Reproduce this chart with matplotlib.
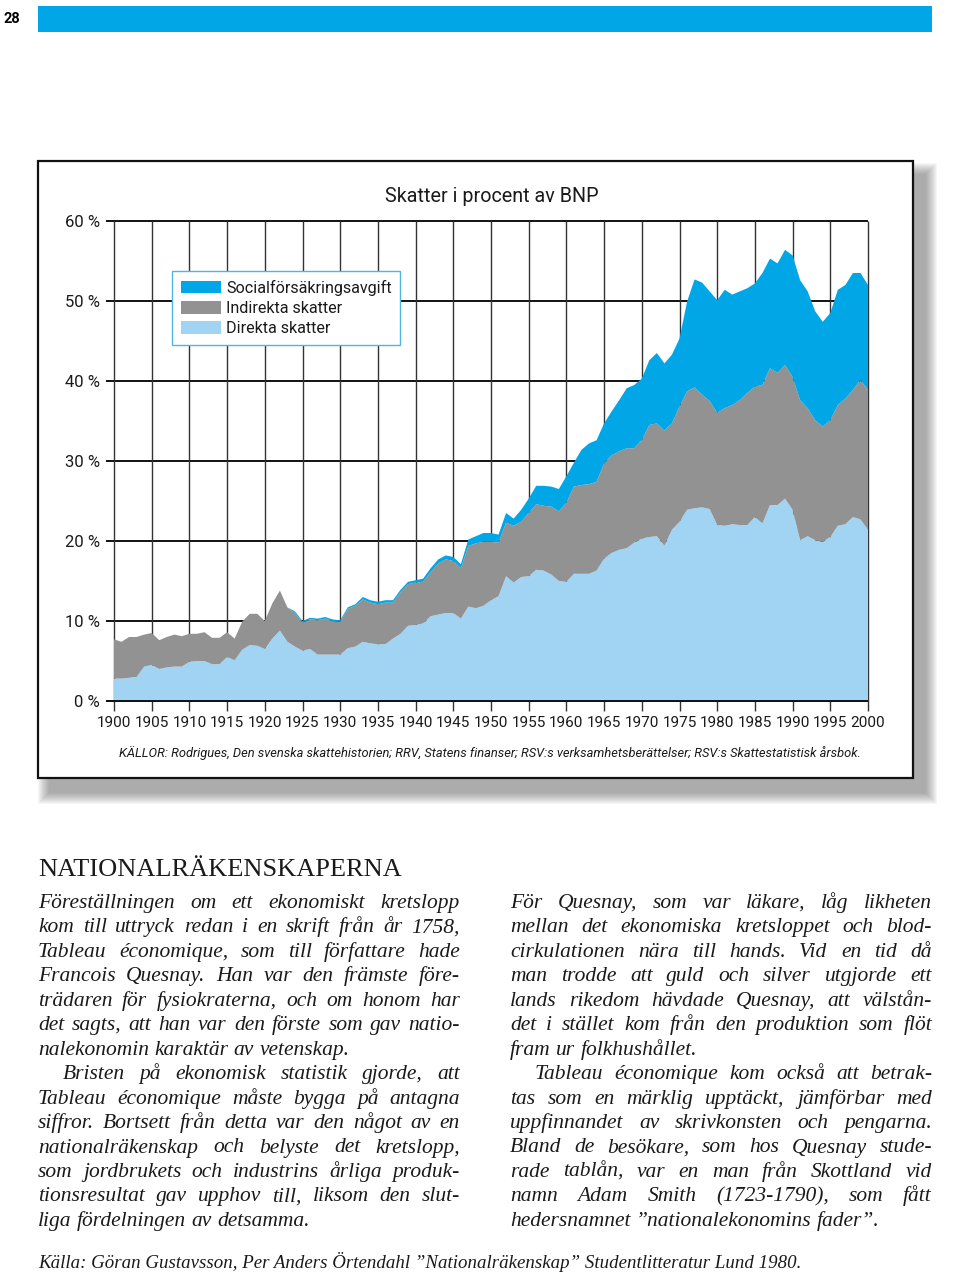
import matplotlib
matplotlib.use("Agg")
import matplotlib.pyplot as plt
from matplotlib.font_manager import FontProperties
from matplotlib.patches import Rectangle

W, H = 960, 1275

years = list(range(1900, 2001))
direkta = [2.8, 2.8, 2.9, 3.0, 4.3, 4.5, 4.0, 4.2, 4.3, 4.3,
           4.9, 5.0, 5.0, 4.6, 4.6, 5.5, 5.1, 6.4, 7.0, 6.9,
           6.5, 7.8, 8.8, 7.4, 6.8, 6.3, 6.5, 5.8, 5.8, 5.8,
           5.8, 6.6, 6.8, 7.4, 7.2, 7.1, 7.1, 7.8, 8.4, 9.4,
           9.5, 9.7, 10.6, 10.8, 11.0, 11.0, 10.3, 11.8, 11.6, 11.9,
           12.6, 13.1, 15.6, 14.8, 15.5, 15.6, 16.4, 16.3, 15.8, 15.0,
           14.9, 15.9, 15.9, 15.9, 16.3, 17.8, 18.5, 18.9, 19.1, 19.8,
           20.3, 20.5, 20.6, 19.4, 21.4, 22.4, 23.9, 24.1, 24.2, 24.0,
           22.0, 21.9, 22.1, 22.0, 22.0, 23.0, 22.2, 24.5, 24.5, 25.3,
           23.9, 20.1, 20.6, 20.1, 19.9, 20.5, 21.9, 22.1, 23.0, 22.7,
           21.4]
indirekta = [4.9, 4.6, 5.1, 5.0, 4.0, 4.0, 3.6, 3.8, 4.0, 3.8,
             3.5, 3.4, 3.6, 3.3, 3.3, 3.1, 2.7, 3.5, 3.9, 4.0,
             3.5, 4.4, 5.0, 4.3, 4.2, 3.5, 3.7, 4.3, 4.5, 4.2,
             4.1, 4.9, 5.1, 5.3, 5.1, 5.0, 5.2, 4.5, 5.2, 5.2,
             5.3, 5.2, 5.5, 6.4, 6.7, 6.5, 6.3, 7.6, 8.1, 8.0,
             7.3, 6.7, 6.7, 7.1, 6.9, 7.9, 8.2, 8.1, 8.5, 8.7,
             9.9, 10.9, 11.1, 11.2, 11.1, 11.9, 12.2, 12.3, 12.5, 11.8,
             12.3, 14.0, 14.1, 14.4, 13.3, 14.4, 14.8, 15.1, 14.1, 13.5,
             14.0, 14.7, 14.9, 15.6, 16.5, 16.3, 17.3, 17.1, 16.5, 16.7,
             16.6, 17.5, 16.0, 15.0, 14.4, 14.6, 15.1, 15.7, 15.9, 17.4,
             17.5]
social = [0, 0, 0, 0, 0, 0, 0, 0, 0, 0,
          0, 0, 0, 0, 0, 0, 0, 0, 0, 0,
          0, 0, 0, 0, 0.2, 0.2, 0.2, 0.2, 0.2, 0.2,
          0.2, 0.2, 0.2, 0.3, 0.3, 0.3, 0.3, 0.3, 0.3, 0.3,
          0.3, 0.4, 0.5, 0.5, 0.5, 0.5, 0.5, 0.8, 0.9, 1.1,
          1.1, 1.0, 1.2, 0.9, 1.5, 1.8, 2.3, 2.5, 2.5, 2.8,
          3.3, 3.0, 4.4, 5.1, 5.2, 5.0, 5.5, 6.4, 7.5, 7.9,
          7.7, 8.1, 8.8, 8.4, 8.6, 8.5, 11.2, 13.5, 14.0, 13.7,
          14.1, 14.8, 13.8, 13.6, 13.1, 12.9, 14.0, 13.7, 13.7, 14.4,
          15.2, 15.0, 14.6, 13.6, 13.1, 13.4, 14.4, 14.2, 14.6, 13.4,
          13.1]
series_labels = ["Direkta skatter", "Indirekta skatter", "Socialförsäkringsavgift"]
series_colors = ["#a0d4f2", "#929292", "#00a6e6"]
xticks = list(range(1900, 2001, 5))
yticks = list(range(0, 61, 10))

title = "Skatter i procent av BNP"
source = ("KÄLLOR: Rodrigues, Den svenska skattehistorien; RRV, Statens finanser; "
          "RSV:s verksamhetsberättelser; RSV:s Skattestatistisk årsbok.")
heading = "NATIONALRÄKENSKAPERNA"
left_col = [
    "Föreställningen om ett ekonomiskt kretslopp",
    "kom till uttryck redan i en skrift från år 1758,",
    "Tableau économique, som till författare hade",
    "Francois Quesnay. Han var den främste före-",
    "trädaren för fysiokraterna, och om honom har",
    "det sagts, att han var den förste som gav natio-",
    "nalekonomin karaktär av vetenskap.",
    "Bristen på ekonomisk statistik gjorde, att",
    "Tableau économique måste bygga på antagna",
    "siffror. Bortsett från detta var den något av en",
    "nationalräkenskap och belyste det kretslopp,",
    "som jordbrukets och industrins årliga produk-",
    "tionsresultat gav upphov till, liksom den slut-",
    "liga fördelningen av detsamma.",
]
right_col = [
    "För Quesnay, som var läkare, låg likheten",
    "mellan det ekonomiska kretsloppet och blod-",
    "cirkulationen nära till hands. Vid en tid då",
    "man trodde att guld och silver utgjorde ett",
    "lands rikedom hävdade Quesnay, att välstån-",
    "det i stället kom från den produktion som flöt",
    "fram ur folkhushållet.",
    "Tableau économique kom också att betrak-",
    "tas som en märklig upptäckt, jämförbar med",
    "uppfinnandet av skrivkonsten och pengarna.",
    "Bland de besökare, som hos Quesnay stude-",
    "rade tablån, var en man från Skottland vid",
    "namn Adam Smith (1723-1790), som fått",
    "hedersnamnet ”nationalekonomins fader”.",
]
footer = ("Källa: Göran Gustavsson, Per Anders Örtendahl ”Nationalräkenskap” "
          "Studentlitteratur Lund 1980.")

sans = "Roboto"
serif = "Liberation Serif"
ink = "#1a1a1a"


def frect(x0, y0, x1, y1, **kw):
    return Rectangle((x0 / W, 1 - y1 / H), (x1 - x0) / W, (y1 - y0) / H,
                     transform=fig.transFigure, **kw)


fig = plt.figure(figsize=(W / 100, H / 100), dpi=100)
fig.patch.set_facecolor("white")

# top bar and page number
fig.add_artist(frect(38, 6, 932, 32, facecolor="#00a6e6", lw=0))
fig.text(3 / W, 1 - 19 / H, "28", family=sans, fontweight="bold",
         fontsize=10.5, va="center", color="black")

# chart frame with soft shadow
for i in range(12):
    e = 12 - i
    fig.add_artist(frect(50 - e, 175 - e, 925 + e, 792 + e, facecolor="#555555",
                         alpha=0.05, lw=0, zorder=-3))
fig.add_artist(frect(38, 161, 913, 778, facecolor="white", edgecolor="#111111",
                     lw=1.6, zorder=-1))

ax = fig.add_axes([114 / W, 1 - 701 / H, (868 - 114) / W, (701 - 221) / H])
ax.patch.set_alpha(0)
ax.stackplot(years, direkta, indirekta, social, colors=series_colors,
             labels=series_labels, lw=0, zorder=2)
ax.hlines(yticks, 1898.9, 2000, colors="#111111", lw=1.4, clip_on=False, zorder=1)
ax.vlines(xticks, -1.3, 60, colors="#333333", lw=1.0, clip_on=False, zorder=1)
ax.hlines(0, 1898.9, 2000, colors="#111111", lw=1.4, clip_on=False, zorder=3)
ax.set_xlim(1900, 2000)
ax.set_ylim(0, 60)
for s in ax.spines.values():
    s.set_visible(False)
ax.set_xticks(xticks)
ax.set_xticklabels([str(x) for x in xticks], family=sans, fontsize=11, color=ink)
ax.set_yticks(yticks)
ax.set_yticklabels([f"{y} %" for y in yticks], family=sans, fontsize=12, color=ink)
ax.tick_params(axis="x", length=0, pad=11)
ax.tick_params(axis="y", length=0, pad=10)

handles, labels = ax.get_legend_handles_labels()
leg = ax.legend(handles[::-1], labels[::-1], loc="upper left",
                bbox_to_anchor=(172 / W, 1 - 271 / H), bbox_transform=fig.transFigure,
                frameon=True, fancybox=False, edgecolor="#4fb6df", framealpha=1,
                borderaxespad=0, handlelength=2.5, handleheight=0.8,
                handletextpad=0.3, labelspacing=0.32, borderpad=0.55,
                prop=FontProperties(family=sans, size=11.6))
leg.get_frame().set_linewidth(1.0)
for t in leg.get_texts():
    t.set_color(ink)

fig.text(385 / W, 1 - 197 / H, title, family=sans, fontsize=14.2, va="center", color=ink)
fig.text(490 / W, 1 - 753 / H, source, family=sans, style="italic",
         fontsize=9.3, ha="center", va="center", color=ink)

# body text, justified by hand
r = fig.canvas.get_renderer()


def tw(s, prop):
    return r.get_text_width_height_descent(s, prop, ismath=False)[0]


def fit(s, prop, width):
    p = prop.copy()
    p.set_size(prop.get_size() * width / tw(s, prop))
    return p


hprop = fit(heading, FontProperties(family=serif, size=20), 364)
fig.text(38 / W, 1 - 876 / H, heading, fontproperties=hprop, va="baseline", color=ink)

fprop = fit(footer, FontProperties(family=serif, style="italic", size=14), 762)
fig.text(38 / W, 1 - 1268 / H, footer, fontproperties=fprop, va="baseline", color=ink)

colw = 422
indent = 25
bprop = FontProperties(family=serif, style="italic", size=15.5)
widest = max(tw(l, bprop) + (indent if i == 7 else 0)
             for col in (left_col, right_col) for i, l in enumerate(col))
if widest > 0.97 * colw:
    bprop.set_size(bprop.get_size() * 0.97 * colw / widest)
space = tw("a a", bprop) - tw("aa", bprop)
LH = 24.45


def setcol(lines, x0):
    for i, line in enumerate(lines):
        ind = indent if i == 7 else 0
        just = i not in (6, 13)
        words = line.split(" ")
        ws = [tw(w, bprop) for w in words]
        gap = (colw - ind - sum(ws)) / (len(words) - 1) if just else space
        x = x0 + ind
        y = 908 + i * LH
        for w, wd in zip(words, ws):
            fig.text(x / W, 1 - y / H, w, fontproperties=bprop, va="baseline", color=ink)
            x += wd + gap


setcol(left_col, 38)
setcol(right_col, 510)

fig.savefig("out.png", dpi=100)
